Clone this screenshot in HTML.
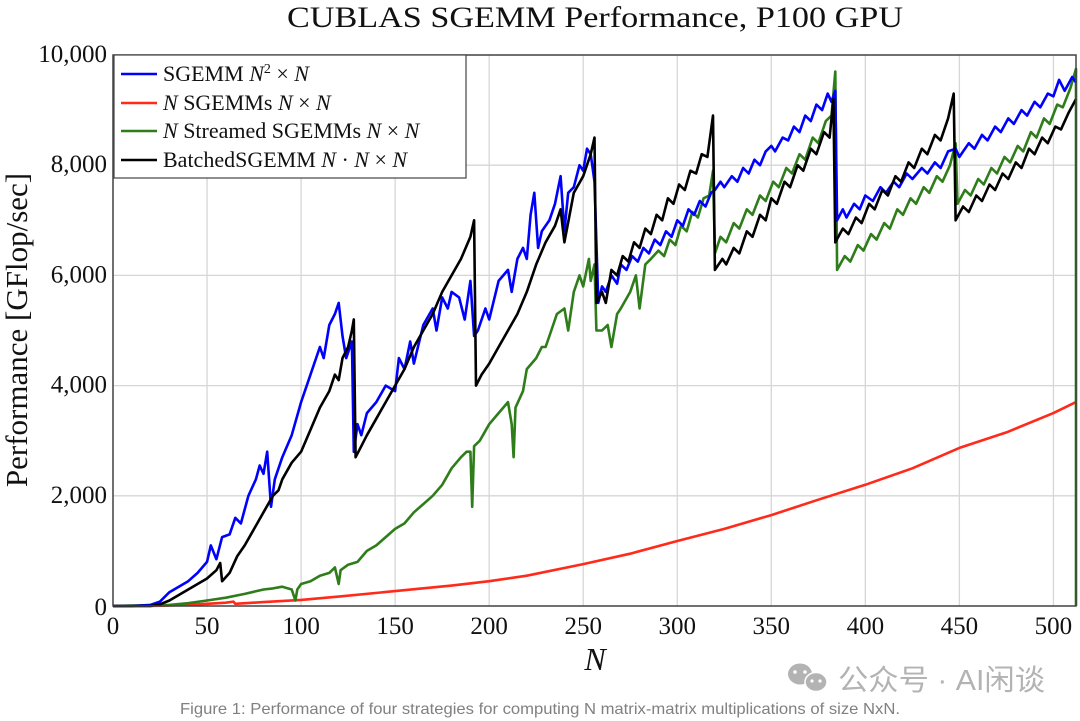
<!DOCTYPE html>
<html><head><meta charset="utf-8"><style>
html,body{margin:0;padding:0;background:#fff;}
svg{display:block;}
</style></head><body>
<svg id="chart" width="1080" height="721" viewBox="0 0 1080 721" xmlns="http://www.w3.org/2000/svg">
<g id="grid"></g>
<g id="series"></g>
<rect x="113" y="55" width="963" height="551" fill="none" stroke="#444" stroke-width="1.5"/>
<g id="ticks"></g>
<text x="595" y="27" text-anchor="middle" font-family="Liberation Serif, serif" font-size="30" fill="#111" textLength="616" lengthAdjust="spacingAndGlyphs">CUBLAS SGEMM Performance, P100 GPU</text>
<text transform="translate(27,330) rotate(-90)" text-anchor="middle" font-family="Liberation Serif, serif" font-size="31" fill="#111">Performance [GFlop/sec]</text>
<text x="595" y="670" text-anchor="middle" font-family="Liberation Serif, serif" font-style="italic" font-size="32" fill="#111">N</text>
<g font-family="Liberation Serif, serif" font-size="22" fill="#111">
<rect x="114" y="55" width="352" height="123" fill="#fff" stroke="#444" stroke-width="1.2"/>
<g><line x1="121" y1="74" x2="157" y2="74" stroke="#0000ff" stroke-width="2.5"/><text x="163" y="81">SGEMM <tspan font-style="italic">N</tspan><tspan font-size="14" dy="-8">2</tspan><tspan dy="8"> × </tspan><tspan font-style="italic">N</tspan></text></g>
<g><line x1="121" y1="103" x2="157" y2="103" stroke="#ff2a1a" stroke-width="2.5"/><text x="163" y="110"><tspan font-style="italic">N</tspan> SGEMMs <tspan font-style="italic">N</tspan> × <tspan font-style="italic">N</tspan></text></g>
<g><line x1="121" y1="131" x2="157" y2="131" stroke="#2e7d1a" stroke-width="2.5"/><text x="163" y="138"><tspan font-style="italic">N</tspan> Streamed SGEMMs <tspan font-style="italic">N</tspan> × <tspan font-style="italic">N</tspan></text></g>
<g><line x1="121" y1="160" x2="157" y2="160" stroke="#000" stroke-width="2.5"/><text x="163" y="167">BatchedSGEMM <tspan font-style="italic">N</tspan> · <tspan font-style="italic">N</tspan> × <tspan font-style="italic">N</tspan></text></g>
</g>
<g fill="#b3b3b3">
<ellipse cx="800" cy="674" rx="12" ry="10.5"/>
<ellipse cx="816" cy="682" rx="11" ry="9.5" stroke="#fff" stroke-width="1.5"/>
<circle cx="795" cy="672" r="1.8" fill="#fff"/><circle cx="805" cy="672" r="1.8" fill="#fff"/>
<circle cx="812" cy="681" r="1.6" fill="#fff"/><circle cx="820" cy="681" r="1.6" fill="#fff"/>
<text x="838" y="690" font-family="Liberation Sans, Noto Sans CJK SC, sans-serif" font-size="29" textLength="207" lengthAdjust="spacingAndGlyphs">公众号 · AI闲谈</text>
</g>
<text x="540" y="714" text-anchor="middle" font-family="Liberation Sans, sans-serif" font-size="16" fill="#808080" textLength="720" lengthAdjust="spacingAndGlyphs">Figure 1: Performance of four strategies for computing N matrix-matrix multiplications of size NxN.</text>
</svg>
<script>
const xTicks = [0,50,100,150,200,250,300,350,400,450,500];
const yTicks = [0,2000,4000,6000,8000,10000];
const yTickLabels = ["0","2,000","4,000","6,000","8,000","10,000"];

const blueN = [0,10,20,25,30,35,40,45,50,52,55,58,62,65,68,72,76,78,80,82,84,86,90,95,100,105,110,112,115,118,120,122,124,127,128,130,132,135,140,145,150,152,155,158,160,165,170,172,175,178,180,184,187,190,192,194,198,200,205,210,212,215,218,220,222,224,226,228,232,235,238,240,242,245,248,250,252,254,256,258,260,262,265,268,270,273,276,279,282,285,288,291,294,297,300,303,306,309,312,315,318,320,323,325,329,332,335,338,341,344,347,350,352,356,359,362,365,368,371,374,377,380,382,384,385,388,390,394,397,400,404,408,411,415,418,422,425,430,433,437,440,444,448,450,455,458,462,465,469,472,476,479,483,486,490,493,497,500,503,506,510,512];
const blueV = [0,0,20,80,250,350,450,600,800,1100,850,1250,1300,1600,1500,2000,2300,2550,2400,2800,1800,2300,2700,3100,3700,4200,4700,4500,5100,5300,5500,4900,4500,4800,2800,3300,3100,3500,3700,4000,3900,4500,4300,4800,4400,5100,5400,5000,5600,5400,5700,5600,5200,5900,4900,5000,5400,5200,5900,6100,5700,6300,6500,6300,7100,7500,6500,6800,7000,7300,7800,6800,7500,7600,8000,7900,8300,8200,7700,5500,5800,5700,6000,5850,6200,6100,6350,6250,6500,6400,6650,6550,6800,6700,7000,6900,7200,7100,7350,7250,7500,7550,7700,7600,7800,7700,7950,7850,8100,8000,8250,8350,8250,8500,8450,8700,8600,8900,8800,9100,9000,9300,9150,9350,7000,7200,7050,7300,7200,7450,7350,7600,7500,7700,7600,7850,7750,7950,7850,8050,7950,8250,8300,8150,8400,8300,8550,8450,8700,8600,8850,8750,9000,8900,9150,9050,9300,9250,9550,9350,9600,9500];

const redN = [0,20,40,60,64,65,80,100,120,150,180,200,220,250,275,300,325,350,375,400,425,450,475,500,512];
const redV = [0,0,20,60,80,40,70,110,170,270,370,450,550,760,950,1180,1400,1650,1930,2200,2500,2870,3150,3500,3700];

const greenN = [0,30,40,50,60,70,80,85,90,95,97,98,100,105,110,115,118,120,121,125,130,135,140,145,150,155,160,165,170,175,180,185,188,190,191,192,195,200,205,210,212,213,214,218,220,225,228,230,232,236,240,242,245,248,250,253,254,256,257,260,263,265,268,270,275,278,280,283,286,290,293,296,299,302,305,308,311,314,317,319,320,323,326,330,333,337,340,344,347,351,354,358,361,365,368,372,375,379,382,384,385,389,392,396,399,403,406,410,413,417,420,424,427,431,434,438,441,445,448,449,453,456,460,463,467,470,474,477,481,484,488,491,495,498,502,505,509,512,512];
const greenV = [0,20,50,100,150,220,300,320,350,300,100,300,400,450,550,600,700,400,650,750,800,1000,1100,1250,1400,1500,1700,1850,2000,2200,2500,2700,2800,2800,1800,2900,3000,3300,3500,3700,3300,2700,3600,3900,4300,4500,4700,4700,4900,5300,5400,5000,5700,6000,5800,6300,5900,6200,5000,5000,5100,4700,5300,5400,5700,6000,5400,6200,6300,6450,6350,6650,6550,6900,6800,7150,7050,7400,7450,7900,6400,6700,6600,6950,6850,7200,7100,7450,7350,7700,7600,7950,7850,8200,8100,8500,8400,8800,8900,9700,6100,6350,6250,6550,6450,6750,6650,6950,6850,7200,7100,7400,7300,7600,7500,7800,7700,8000,8400,7300,7550,7450,7750,7650,7950,7850,8150,8050,8350,8250,8600,8500,8850,8750,9100,9050,9400,9750,0];

const blackN = [0,20,25,30,35,40,45,50,55,57,58,62,66,70,75,80,85,88,90,95,100,105,110,115,118,120,122,125,127,128,129,132,135,140,145,150,155,160,165,170,175,180,185,190,192,193,196,200,205,210,215,220,225,230,235,238,240,245,250,254,256,257,260,262,265,268,271,274,277,280,283,286,289,292,295,298,301,304,307,310,313,316,319,320,324,326,330,333,337,340,344,347,350,353,357,360,364,367,371,374,378,381,383,384,388,391,395,398,402,405,409,412,416,419,423,426,430,433,437,440,444,447,448,452,455,459,462,466,469,473,476,480,483,487,490,494,497,501,504,508,512];
const blackV = [0,0,30,100,200,300,400,500,650,780,450,600,900,1100,1400,1700,2000,2100,2300,2600,2800,3200,3600,3900,4200,4100,4500,4700,5000,5200,2700,2900,3100,3400,3700,4000,4300,4700,5000,5300,5700,6000,6300,6700,7000,4000,4200,4400,4700,5000,5300,5700,6200,6600,6900,7200,6600,7500,7800,8200,8500,5500,5700,5500,6100,6000,6350,6250,6600,6500,6850,6750,7100,7000,7400,7300,7650,7550,7900,7850,8200,8150,8900,6100,6300,6200,6500,6400,6800,6700,7100,7000,7400,7300,7700,7600,8000,7900,8300,8200,8600,8500,9200,6600,6850,6750,7050,6950,7300,7200,7550,7450,7800,7700,8050,7950,8300,8200,8550,8450,8850,9300,7000,7250,7150,7450,7350,7650,7550,7850,7750,8050,7950,8300,8200,8500,8400,8700,8650,8950,9200];

const X0=113, X1=1076, Y0=606, Y1=55, XMAX=512, YMAX=10000;
function xs(n){return X0+(X1-X0)*n/XMAX;}
function ys(v){return Y0-(Y0-Y1)*v/YMAX;}
const NS='http://www.w3.org/2000/svg';
const grid=document.getElementById('grid'), ticks=document.getElementById('ticks'), ser=document.getElementById('series');

xTicks.forEach(t=>{
  const l=document.createElementNS(NS,'line');
  l.setAttribute('x1',xs(t));l.setAttribute('x2',xs(t));l.setAttribute('y1',Y1);l.setAttribute('y2',Y0);
  l.setAttribute('stroke','#d6d6d6');l.setAttribute('stroke-width','1.3');
  
  
  grid.appendChild(l);
  const tx=document.createElementNS(NS,'text');
  tx.setAttribute('x',xs(t));tx.setAttribute('y',634);tx.setAttribute('text-anchor','middle');
  tx.setAttribute('font-family','Liberation Serif, serif');tx.setAttribute('font-size','25');tx.setAttribute('fill','#111');
  tx.textContent=t;
  
  
  ticks.appendChild(tx);
});
yTicks.forEach((t,i)=>{
  const l=document.createElementNS(NS,'line');
  l.setAttribute('x1',X0);l.setAttribute('x2',X1);l.setAttribute('y1',ys(t));l.setAttribute('y2',ys(t));
  l.setAttribute('stroke','#d6d6d6');l.setAttribute('stroke-width','1.3');
  
  
  grid.appendChild(l);
  const tx=document.createElementNS(NS,'text');
  tx.setAttribute('x',107);tx.setAttribute('y',ys(t)+(i===0?9:7));tx.setAttribute('text-anchor','end');
  tx.setAttribute('font-family','Liberation Serif, serif');tx.setAttribute('font-size','25');tx.setAttribute('fill','#111');
  tx.textContent=yTickLabels[i];
  
  
  ticks.appendChild(tx);
});
function line(N,V,color,name){
  const p=document.createElementNS(NS,'polyline');
  p.setAttribute('points',N.map((n,i)=>xs(n).toFixed(1)+','+ys(V[i]).toFixed(1)).join(' '));
  p.setAttribute('fill','none');p.setAttribute('stroke',color);p.setAttribute('stroke-width','2.6');p.setAttribute('stroke-linejoin','round');
  
  
  ser.appendChild(p);
}
line(redN,redV,'#ff2a1a','series-n-sgemms');
line(greenN,greenV,'#2e7d1a','series-streamed-sgemms');
line(blueN,blueV,'#0000ff','series-sgemm');
line(blackN,blackV,'#000000','series-batched-sgemm');
</script>
</body></html>
